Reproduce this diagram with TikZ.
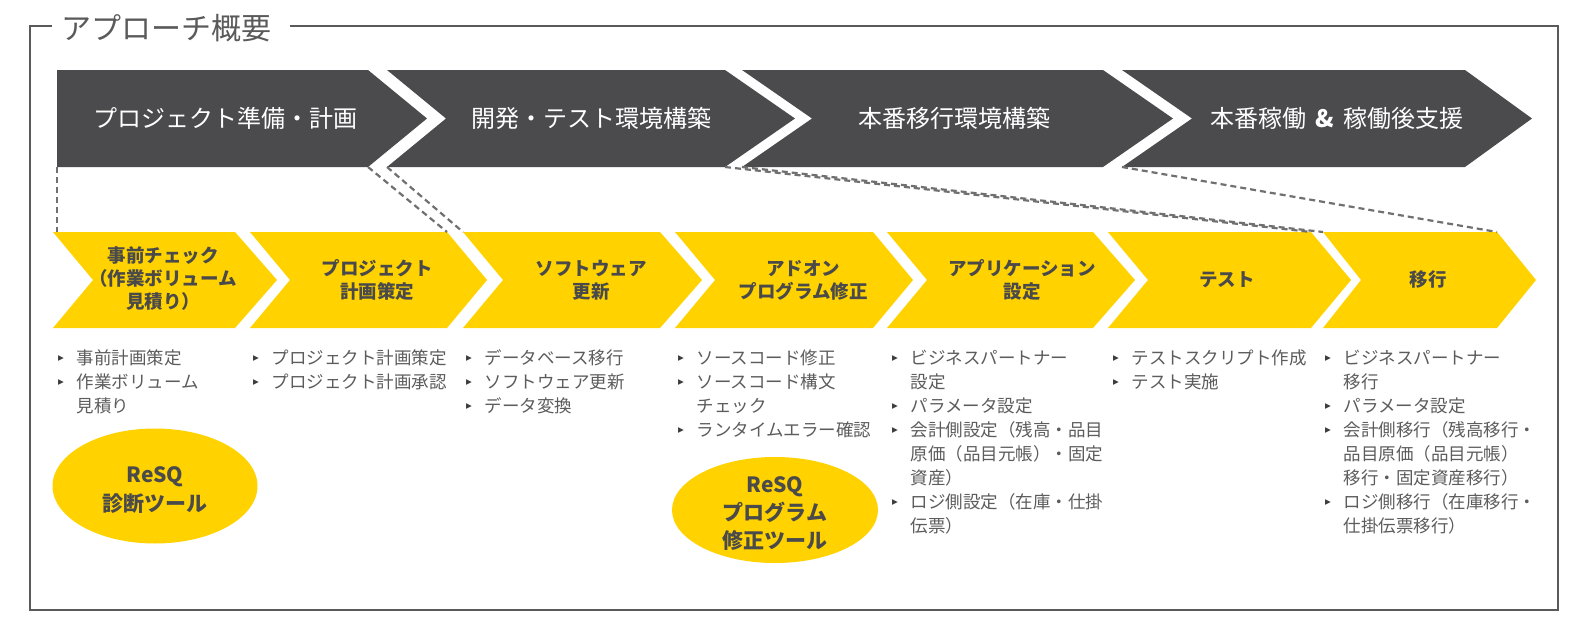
\documentclass[tikz,border=0pt]{standalone}
\usepackage{fontspec}
\setmainfont{Noto Sans CJK JP}
\newfontfamily\dvfont{DejaVu Sans}
\usetikzlibrary{shapes.geometric}
\definecolor{ylw}{HTML}{FFD200}
\definecolor{drk}{HTML}{4B4B4D}
\definecolor{frm}{HTML}{5A5A5A}
\definecolor{txt}{HTML}{5C5C5C}
\definecolor{lbl}{HTML}{4A4A4A}
\definecolor{dsh}{HTML}{707070}
\definecolor{blt}{HTML}{3C3C3C}
% #1 xL #2 xR #3 notch #4 tip #5 ytop #6 ybot #7 style #8 name
\newcommand\mychev[8]{%
  \path[#7] (#1,#5) coordinate (#8tl) -- (#2,#5) coordinate (#8tr)
    -- ({#2+#4},{(#5+#6)/2}) coordinate (#8tip) -- (#2,#6) coordinate (#8br)
    -- (#1,#6) coordinate (#8bl) -- ({#1+#3},{(#5+#6)/2}) -- cycle;}
\newcommand\kb{\makebox[18.5pt][l]{\raisebox{2.2pt}{\color{blt}\dvfont\fontsize{11.5}{11.5}\selectfont ▸}}}
\newcommand\kc{\hspace*{18.5pt}}
\begin{document}
\begin{tikzpicture}[x=1pt,y=-1pt,
  dfill/.style={fill=drk},
  yfill/.style={fill=ylw},
  dtext/.style={text=white,font=\fontsize{24}{24}\selectfont,inner sep=0},
  ylab/.style={text=lbl,font=\fontsize{18.5}{23}\selectfont\bfseries,align=center,inner sep=0},
  li/.style={anchor=base west,inner sep=0,text=txt,font=\fontsize{17.5}{24}\selectfont},
  dline/.style={draw=dsh,line width=2.2pt,dash pattern=on 6pt off 4pt},
  tool/.style={ellipse,fill=ylw,inner sep=0},
  tooltext/.style={text=lbl,font=\fontsize{21}{29}\selectfont\bfseries,align=center,inner sep=0}]
\useasboundingbox (0,0) rectangle (1592,626);
\fill[white] (0,0) rectangle (1592,626);
% frame
\draw[frm,line width=2pt] (52,26) -- (30,26) -- (30,610) -- (1558,610) -- (1558,26) -- (290,26);
\node[anchor=west,text=frm,font=\fontsize{30}{30}\selectfont,inner sep=0] (title) at (61,28) {アプローチ概要};
% dark chevrons
\mychev{57}{368}{0}{59}{70}{167}{dfill}{d1}
\mychev{387}{725}{59}{70}{70}{167}{dfill}{d2}
\mychev{742}{1103}{70}{70}{70}{167}{dfill}{d3}
\mychev{1122}{1465}{70}{67}{70}{167}{dfill}{d4}
\node[dtext] (d1t) at (225,118) {プロジェクト準備・計画};
\node[dtext] (d2t) at (591,118) {開発・テスト環境構築};
\node[dtext] (d3t) at (954,118) {本番移行環境構築};
\node[dtext] (d4t) at (1337,118) {本番稼働\hspace{9pt}\textbf{\&}\hspace{9pt}稼働後支援};
% yellow chevrons
\mychev{53}{235}{40}{42}{232}{328}{yfill}{y1}
\mychev{250}{447}{40}{40}{232}{328}{yfill}{y2}
\mychev{463}{660}{40}{42}{232}{328}{yfill}{y3}
\mychev{675}{873}{40}{40}{232}{328}{yfill}{y4}
\mychev{887}{1093}{40}{42}{232}{328}{yfill}{y5}
\mychev{1108}{1311}{40}{40}{232}{328}{yfill}{y6}
\mychev{1323}{1497}{38}{39}{232}{328}{yfill}{y7}
\node[ylab] (y1t) at (163,279) {事前チェック\\（作業ボリューム\\見積り）};
\node[ylab] (y2t) at (377,280) {プロジェクト\\計画策定};
\node[ylab] (y3t) at (591,280) {ソフトウェア\\更新};
\node[ylab] (y4t) at (803,280) {アドオン\\プログラム修正};
\node[ylab] (y5t) at (1022,280) {アプリケーション\\設定};
\node[ylab] (y6t) at (1227,280) {テスト};
\node[ylab] (y7t) at (1428,280) {移行};
% dashed connectors
\draw[dline] (d1bl) -- (d1bl |- y1tl);
\draw[dline] (d1br) -- (y2tr);
\draw[dline] (d2bl) -- (y3tl);
\draw[dline] (d2br) -- (y6tr);
\draw[dline] (d3bl) -- (y7tl);
\draw[dline] (d4bl) -- (y7tr);
% lists
\foreach \t [count=\i from 0] in {\kb 事前計画策定,\kb 作業ボリューム,\kc 見積り}
  \node[li] (la\i) at (58,{364+24*\i}) {\t};
\foreach \t [count=\i from 0] in {\kb プロジェクト計画策定,\kb プロジェクト計画承認}
  \node[li] (lb\i) at (253,{364+24*\i}) {\t};
\foreach \t [count=\i from 0] in {\kb データベース移行,\kb ソフトウェア更新,\kb データ変換}
  \node[li] (lc\i) at (466,{364+24*\i}) {\t};
\foreach \t [count=\i from 0] in {\kb ソースコード修正,\kb ソースコード構文,\kc チェック,\kb ランタイムエラー確認}
  \node[li] (ld\i) at (678,{364+24*\i}) {\t};
\foreach \t [count=\i from 0] in {\kb ビジネスパートナー,\kc 設定,\kb パラメータ設定,\kb 会計側設定（残高・品目,\kc 原価（品目元帳）・固定,\kc 資産）,\kb ロジ側設定（在庫・仕掛,\kc 伝票）}
  \node[li] (le\i) at (892,{364+24*\i}) {\t};
\foreach \t [count=\i from 0] in {\kb テストスクリプト作成,\kb テスト実施}
  \node[li] (lf\i) at (1113,{364+24*\i}) {\t};
\foreach \t [count=\i from 0] in {\kb ビジネスパートナー,\kc 移行,\kb パラメータ設定,\kb 会計側移行（残高移行・,\kc 品目原価（品目元帳）,\kc 移行・固定資産移行）,\kb ロジ側移行（在庫移行・,\kc 仕掛伝票移行）}
  \node[li] (lg\i) at (1325,{364+24*\i}) {\t};
% tools
\node[tool,minimum width=205pt,minimum height=115pt] (e1) at (155,486) {};
\node[tooltext] (e1t) at (155,490) {ReSQ\\診断ツール};
\node[tool,minimum width=206pt,minimum height=106pt] (e2) at (775,510) {};
\node[tooltext,font=\fontsize{21}{28}\selectfont\bfseries] (e2t) at (775,514) {ReSQ\\プログラム\\修正ツール};
\end{tikzpicture}
\end{document}
